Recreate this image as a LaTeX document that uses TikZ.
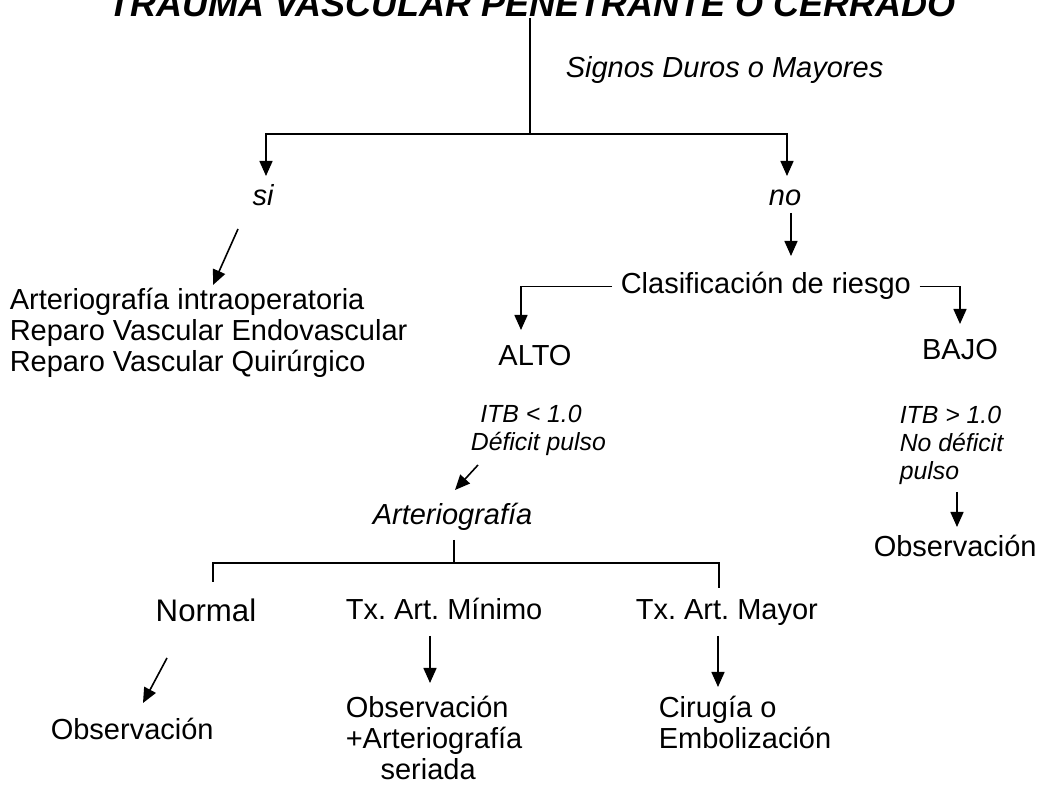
\documentclass[tikz,border=0pt]{standalone}
\usepackage{fontspec}
\setmainfont{Liberation Sans}
\usetikzlibrary{arrows.meta}
\frenchspacing

\begin{document}
\begin{tikzpicture}[x=0.5pt,y=-0.5pt,line width=0.8pt,
    txt/.style={inner sep=0pt,font=\fontsize{14.5}{15.5}\selectfont},
    itx/.style={inner sep=0pt,font=\fontsize{14.5}{15.5}\selectfont\itshape},
    sml/.style={inner sep=0pt,font=\fontsize{12.4}{14.2}\selectfont\itshape},
    arr/.style={-{Triangle[length=7.5pt,width=6.5pt]}}]
    \useasboundingbox (0,0) rectangle (1040,785);
    % primera division
    \node (titulo) [inner sep=0pt,anchor=base,font=\fontsize{18}{20}\selectfont\bfseries\itshape] at (532,17) {TRAUMA VASCULAR PENETRANTE O CERRADO};
    \node (signos) [itx,anchor=base west] at (565,78) {Signos Duros o Mayores};
    \node (si) [itx,anchor=base] at (263,206) {si};
    \node (no) [itx,anchor=base] at (785,206) {no};
    \coordinate (c1) at (530,134);
    \coordinate (si1) at (266,176);
    \coordinate (no1) at (787,176);
    \draw (titulo.south -| c1) -- (c1);
    \draw[arr] (c1) -| (si1);
    \draw[arr] (c1) -| (no1);
    % rama si
    \node (tto) [txt,anchor=north west,align=left] at (9,287) {Arteriograf\'ia intraoperatoria\\Reparo Vascular Endovascular\\Reparo Vascular Quir\'urgico};
    \coordinate (si2) at (238,229);
    \coordinate (si3) at (213,285);
    \draw[arr] (si2) -- (si3);
    % rama no
    \node (clas) [txt,inner xsep=4pt,anchor=base west] at (612,294) {Clasificaci\'on de riesgo};
    \coordinate (no2) at (791,213);
    \coordinate (no3) at (791,256);
    \draw[arr] (no2) -- (no3);
    \coordinate (alto1) at (521,330);
    \coordinate (bajo1) at (960,324);
    \draw[arr] (clas.west) -| (alto1);
    \draw[arr] (clas.east) -| (bajo1);
    \node (alto) [txt,anchor=base] at (535,366) {ALTO};
    \node (bajo) [txt,anchor=base] at (960,360) {BAJO};
    % riesgo alto
    \node (itb1) [sml,anchor=north,align=center] at (531,404) {ITB < 1.0\\\hspace*{0.6em}D\'eficit pulso};
    \coordinate (a2) at (478,465);
    \coordinate (a3) at (455,490);
    \draw[arr] (a2) -- (a3);
    \node (arter) [itx,anchor=base west] at (372,525) {Arteriograf\'ia};
    \coordinate (c2t) at (454,540);
    \coordinate (c2) at (454,563);
    \coordinate (n1) at (213,582);
    \coordinate (m1) at (719,588);
    \draw (c2t) -- (c2);
    \draw (n1) |- (c2) -| (m1);
    \node (normal) [inner sep=0pt,font=\fontsize{15.6}{17}\selectfont,anchor=base] at (206,622) {Normal};
    \node (minimo) [txt,anchor=base west] at (345,620) {Tx. Art. M\'inimo};
    \node (mayor) [txt,anchor=base west] at (635,620) {Tx. Art. Mayor};
    \coordinate (d1) at (167,658);
    \coordinate (d2) at (143,703);
    \coordinate (mi1) at (430,636);
    \coordinate (mi2) at (430,683);
    \coordinate (ma1) at (718,636);
    \coordinate (ma2) at (718,687);
    \draw[arr] (d1) -- (d2);
    \draw[arr] (mi1) -- (mi2);
    \draw[arr] (ma1) -- (ma2);
    \node (obs1) [txt,anchor=base west] at (50,740) {Observaci\'on};
    \node (obs2) [txt,anchor=north west,align=left] at (345,695) {Observaci\'on\\+Arteriograf\'ia\\\hspace*{1.2em}seriada};
    \node (cir) [txt,anchor=north west,align=left] at (658,695) {Cirug\'ia o\\Embolizaci\'on};
    % riesgo bajo
    \node (itb2) [sml,anchor=north west,align=left] at (899,405) {ITB > 1.0\\No d\'eficit\\pulso};
    \coordinate (b1) at (957,492);
    \coordinate (b2) at (957,527);
    \draw[arr] (b1) -- (b2);
    \node (obs3) [txt,anchor=base west] at (873,557) {Observaci\'on};
\end{tikzpicture}
\end{document}
